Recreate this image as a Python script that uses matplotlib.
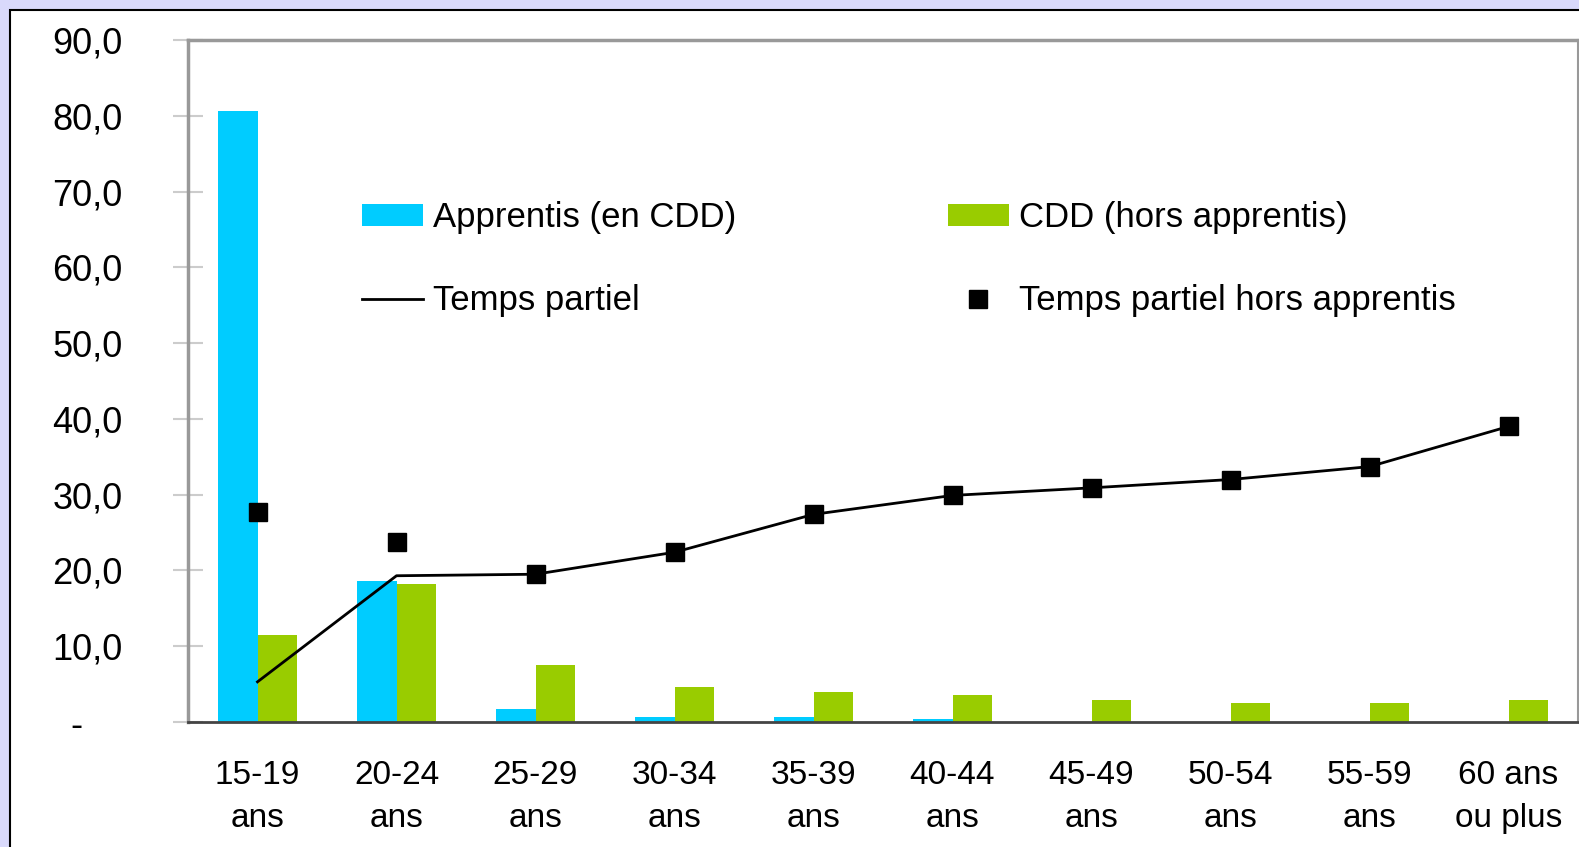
import matplotlib
matplotlib.use("Agg")
import matplotlib.pyplot as plt
from matplotlib.patches import Patch, Rectangle
from matplotlib.lines import Line2D
import numpy as np

categories = ["15-19\nans", "20-24\nans", "25-29\nans", "30-34\nans", "35-39\nans",
              "40-44\nans", "45-49\nans", "50-54\nans", "55-59\nans", "60 ans\nou plus"]
apprentis = [80.6, 18.6, 1.7, 0.6, 0.6, 0.4, 0.0, 0.0, 0.0, 0.0]
cdd = [11.5, 18.2, 7.5, 4.6, 4.0, 3.6, 2.9, 2.5, 2.5, 2.9]
temps_partiel = [5.3, 19.3, 19.5, 22.4, 27.4, 29.9, 30.9, 32.0, 33.7, 39.0]
tp_hors_apprentis = [27.7, 23.7, 19.5, 22.4, 27.4, 29.9, 30.9, 32.0, 33.7, 39.0]
yticks = [0, 10, 20, 30, 40, 50, 60, 70, 80, 90]
yticklabels = ["-    ", "10,0", "20,0", "30,0", "40,0", "50,0", "60,0", "70,0", "80,0", "90,0"]

plt.rcParams['font.family'] = ['Liberation Sans', 'DejaVu Sans']
W, H = 1579, 847
fig = plt.figure(figsize=(W / 100, H / 100), dpi=100, facecolor="#d9d9fb")
# inner white frame
fig.patches.append(Rectangle((10 / W, -0.1), 1.2, (H - 10) / H + 0.1, transform=fig.transFigure,
                             facecolor="white", edgecolor="black", linewidth=1.5, zorder=-5))

ax = fig.add_axes([188 / W, (H - 722) / H, (1578 - 188) / W, (722 - 40) / H])
ax.set_zorder(5)
ax.set_facecolor("white")
x = np.arange(len(categories))
bw = 0.285
blue = "#00ccff"
green = "#99cc00"
ax.bar(x - bw / 2, apprentis, bw, color=blue, zorder=2)
ax.bar(x + bw / 2, cdd, bw, color=green, zorder=2)
ax.plot(x, temps_partiel, color="black", lw=2.0, zorder=3)
ax.plot(x, tp_hors_apprentis, ls="none", marker="s", ms=13.5, color="black", zorder=4)

ax.set_xlim(-0.5, len(categories) - 0.5)
ax.set_ylim(0, 90)
ax.set_yticks(yticks)
ax.set_yticklabels(yticklabels, fontsize=26)
ax.set_xticks(x)
ax.set_xticklabels(categories, fontsize=24, linespacing=1.5)
ax.tick_params(axis="y", direction="inout", length=22, width=1.5, color="#cccccc", pad=36)
ax.tick_params(axis="x", length=0, pad=27)
for s in ["left", "top", "right"]:
    ax.spines[s].set_color("#999999")
ax.spines["left"].set_linewidth(2.5)
ax.spines["top"].set_linewidth(2.5)
ax.spines["right"].set_linewidth(1.5)
ax.spines["bottom"].set_color("#444444")
ax.spines["bottom"].set_linewidth(2)

handles = [Patch(facecolor=blue), Line2D([], [], color="black", lw=2.0),
           Patch(facecolor=green), Line2D([], [], ls="none", marker="s", ms=13.5, color="black")]
labels = ["Apprentis (en CDD)", "Temps partiel", "CDD (hors apprentis)", "Temps partiel hors apprentis"]
ax.legend(handles, labels, ncol=2, frameon=False, fontsize=25,
          loc="upper left", bbox_to_anchor=((362 - 188) / (1578 - 188), 1 - (201 - 40) / (722 - 40)),
          handlelength=1.75, handleheight=0.62, handletextpad=0.29, columnspacing=6.1,
          labelspacing=1.45, borderpad=0, borderaxespad=0)

fig.savefig("out.png", dpi=100, facecolor=fig.get_facecolor())
